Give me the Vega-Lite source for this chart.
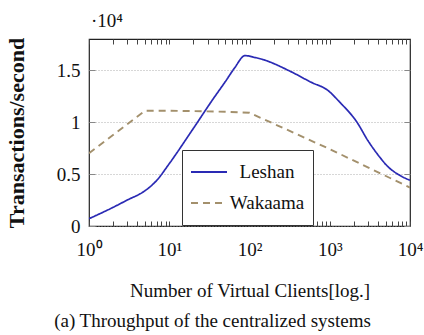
{
  "$schema": "https://vega.github.io/schema/vega-lite/v6.json",
  "width": 321,
  "height": 187,
  "autosize": {"type": "none"},
  "padding": {"left": 89, "top": 39, "right": 14, "bottom": 109},
  "config": {
    "view": {"stroke": "#222", "strokeWidth": 1.2},
    "font": "Liberation Serif"
  },
  "title": {
    "text": "(a) Throughput of the centralized systems",
    "orient": "bottom",
    "anchor": "middle",
    "frame": "group",
    "dx": -37,
    "offset": 12,
    "font": "Liberation Serif",
    "fontSize": 19,
    "fontWeight": "normal",
    "color": "#111"
  },
  "data": {
    "values": [
      {"clients": 1, "tps": 0.07, "system": "Leshan"},
      {"clients": 2, "tps": 0.18, "system": "Leshan"},
      {"clients": 3, "tps": 0.25, "system": "Leshan"},
      {"clients": 5, "tps": 0.34, "system": "Leshan"},
      {"clients": 7, "tps": 0.44, "system": "Leshan"},
      {"clients": 10, "tps": 0.6, "system": "Leshan"},
      {"clients": 20, "tps": 0.94, "system": "Leshan"},
      {"clients": 35, "tps": 1.22, "system": "Leshan"},
      {"clients": 50, "tps": 1.39, "system": "Leshan"},
      {"clients": 65, "tps": 1.52, "system": "Leshan"},
      {"clients": 88, "tps": 1.64, "system": "Leshan"},
      {"clients": 120, "tps": 1.62, "system": "Leshan"},
      {"clients": 150, "tps": 1.6, "system": "Leshan"},
      {"clients": 320, "tps": 1.49, "system": "Leshan"},
      {"clients": 600, "tps": 1.38, "system": "Leshan"},
      {"clients": 930, "tps": 1.31, "system": "Leshan"},
      {"clients": 1340, "tps": 1.19, "system": "Leshan"},
      {"clients": 2180, "tps": 1.0, "system": "Leshan"},
      {"clients": 3000, "tps": 0.82, "system": "Leshan"},
      {"clients": 4230, "tps": 0.66, "system": "Leshan"},
      {"clients": 5160, "tps": 0.58, "system": "Leshan"},
      {"clients": 7000, "tps": 0.5, "system": "Leshan"},
      {"clients": 10000, "tps": 0.44, "system": "Leshan"},
      {"clients": 1, "tps": 0.7, "system": "Wakaama"},
      {"clients": 5, "tps": 1.11, "system": "Wakaama"},
      {"clients": 10, "tps": 1.11, "system": "Wakaama"},
      {"clients": 50, "tps": 1.1, "system": "Wakaama"},
      {"clients": 100, "tps": 1.09, "system": "Wakaama"},
      {"clients": 1000, "tps": 0.74, "system": "Wakaama"},
      {"clients": 10000, "tps": 0.37, "system": "Wakaama"}
    ]
  },
  "layer": [
    {
      "transform": [{"filter": "datum.system == 'Leshan'"}],
      "mark": {"type": "line", "interpolate": "monotone", "strokeWidth": 1.7, "clip": true},
      "encoding": {
        "x": {
          "field": "clients",
          "type": "quantitative",
          "scale": {"type": "log", "domain": [1, 10000]},
          "axis": {
            "orient": "bottom",
            "values": [1,2,3,4,5,6,7,8,9,10,20,30,40,50,60,70,80,90,100,200,300,400,500,600,700,800,900,1000,2000,3000,4000,5000,6000,7000,8000,9000,10000],
            "labelExpr": "datum.value == 1 ? '10⁰' : datum.value == 10 ? '10¹' : datum.value == 100 ? '10²' : datum.value == 1000 ? '10³' : datum.value == 10000 ? '10⁴' : ''",
            "domain": false,
            "grid": false,
            "tickSize": -5,
            "tickColor": "#444",
            "tickWidth": 1,
            "labelPadding": 28,
            "labelFont": "Liberation Serif",
            "labelFontSize": 19,
            "labelColor": "#111",
            "labelFlush": false,
            "labelOverlap": false,
            "labelBaseline": "middle",
            "title": "Number of Virtual Clients[log.]",
            "titleFont": "Liberation Serif",
            "titleFontSize": 19,
            "titleFontWeight": "normal",
            "titleColor": "#111",
            "titlePadding": 22
          }
        },
        "y": {
          "field": "tps",
          "type": "quantitative",
          "scale": {"domain": [0, 1.8], "nice": false, "zero": true},
          "axis": {
            "orient": "left",
            "values": [0, 0.5, 1, 1.5],
            "labelExpr": "datum.value + ''",
            "domain": false,
            "grid": true,
            "gridDash": [1, 2],
            "gridColor": "#999",
            "gridWidth": 0.8,
            "tickSize": -6,
            "tickColor": "#888",
            "labelPadding": 15,
            "labelFont": "Liberation Serif",
            "labelFontSize": 19,
            "labelColor": "#111",
            "labelFlush": false,
            "labelBaseline": "middle",
            "title": "Transactions/second",
            "titleFont": "Liberation Serif",
            "titleFontSize": 22,
            "titleFontWeight": "bold",
            "titleColor": "#111",
            "titlePadding": 28
          }
        },
        "color": {
          "field": "system",
          "type": "nominal",
          "scale": {"domain": ["Leshan", "Wakaama"], "range": ["#2a2ab4", "#a3906c"]},
          "legend": {
            "orient": "none",
            "legendX": 93,
            "legendY": 111,
            "title": null,
            "fillColor": "white",
            "strokeColor": "#333",
            "padding": 8,
            "symbolType": "stroke",
            "symbolSize": 1296,
            "symbolStrokeWidth": 1.8,
            "labelFont": "Liberation Serif",
            "labelFontSize": 19,
            "labelColor": "#111",
            "labelAlign": "center",
            "labelOffset": 39,
            "clipHeight": 28,
            "rowPadding": 3
          }
        },
        "strokeDash": {
          "field": "system",
          "type": "nominal",
          "scale": {"domain": ["Leshan", "Wakaama"], "range": [[1, 0], [7, 5]]},
          "legend": {
            "orient": "none",
            "legendX": 93,
            "legendY": 111,
            "title": null,
            "fillColor": "white",
            "strokeColor": "#333",
            "padding": 8,
            "symbolType": "stroke",
            "symbolSize": 1296,
            "symbolStrokeWidth": 1.8,
            "labelFont": "Liberation Serif",
            "labelFontSize": 19,
            "labelColor": "#111",
            "labelAlign": "center",
            "labelOffset": 39,
            "clipHeight": 28,
            "rowPadding": 3
          }
        }
      }
    },
    {
      "transform": [{"filter": "datum.system == 'Wakaama'"}],
      "mark": {"type": "line", "interpolate": "linear", "strokeWidth": 1.9, "clip": true},
      "encoding": {
        "x": {"field": "clients", "type": "quantitative", "scale": {"type": "log", "domain": [1, 10000]}, "axis": null},
        "y": {"field": "tps", "type": "quantitative", "scale": {"domain": [0, 1.8], "nice": false, "zero": true}, "axis": null},
        "color": {"field": "system", "type": "nominal"},
        "strokeDash": {"field": "system", "type": "nominal"}
      }
    },
    {
      "data": {"values": [{}]},
      "mark": {"type": "text", "align": "left", "baseline": "middle", "dx": 2, "dy": -18, "font": "Liberation Serif", "fontSize": 19, "color": "#111"},
      "encoding": {
        "x": {
          "datum": 1,
          "type": "quantitative",
          "scale": {"type": "log", "domain": [1, 10000]},
          "axis": {
            "orient": "top",
            "values": [1,2,3,4,5,6,7,8,9,10,20,30,40,50,60,70,80,90,100,200,300,400,500,600,700,800,900,1000,2000,3000,4000,5000,6000,7000,8000,9000,10000],
            "labels": false,
            "domain": false,
            "grid": false,
            "tickSize": -5,
            "tickColor": "#444",
            "title": null
          }
        },
        "y": {
          "datum": 1.8,
          "type": "quantitative",
          "scale": {"domain": [0, 1.8], "nice": false, "zero": true},
          "axis": {
            "orient": "right",
            "values": [0, 0.5, 1, 1.5],
            "labels": false,
            "domain": false,
            "grid": false,
            "tickSize": -6,
            "tickColor": "#888",
            "title": null
          }
        },
        "text": {"value": "·10⁴"}
      }
    }
  ],
  "resolve": {"axis": {"x": "independent", "y": "independent"}}
}
